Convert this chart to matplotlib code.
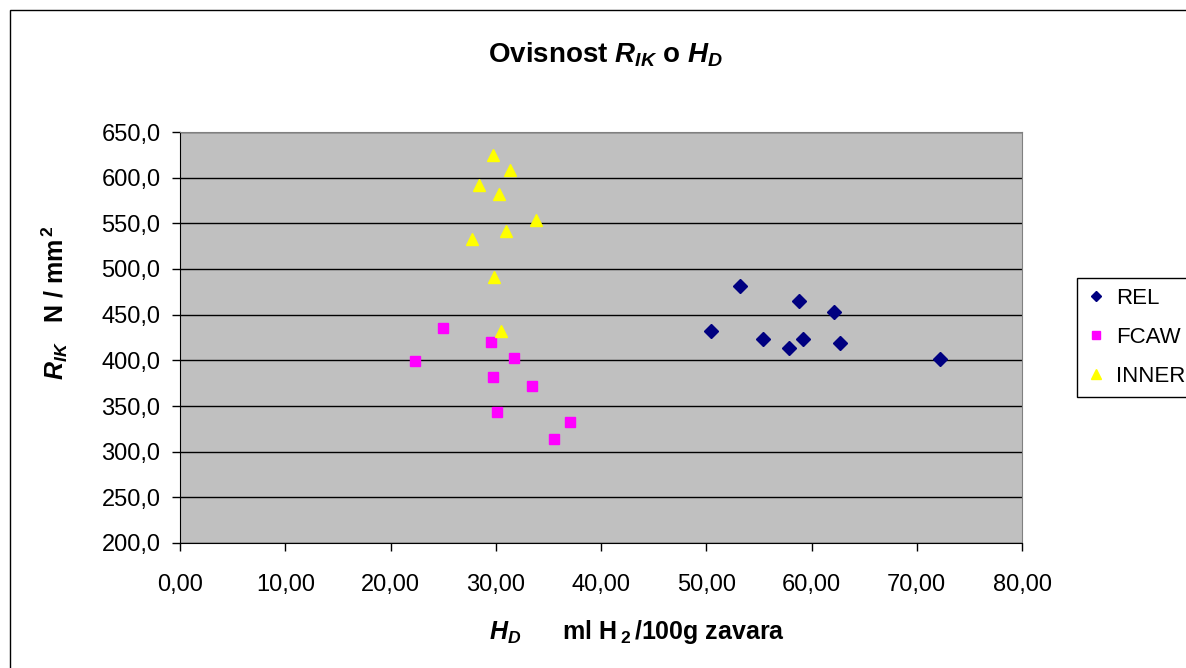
import numpy as np
import matplotlib
matplotlib.use("Agg")
import matplotlib.pyplot as plt
from matplotlib.ticker import FuncFormatter, MultipleLocator
from matplotlib.patches import Rectangle

plt.rcParams['font.family'] = ['Liberation Sans', 'DejaVu Sans']
plt.rcParams['mathtext.fontset'] = 'custom'
plt.rcParams['mathtext.rm'] = 'Liberation Sans'
plt.rcParams['mathtext.it'] = 'Liberation Sans:italic'
plt.rcParams['mathtext.bf'] = 'Liberation Sans:bold'
plt.rcParams['mathtext.bfit'] = 'Liberation Sans:italic:bold'

# REL
rel_x = [53.24, 58.84, 62.11, 50.42, 55.39, 57.86, 59.19, 62.67, 72.18]
rel_y = [481.7, 464.5, 453.2, 432.4, 422.9, 413.4, 422.9, 418.9, 401.7]
# FCAW
fcaw_x = [24.99, 29.58, 22.36, 31.73, 29.77, 33.41, 30.09, 37.02, 35.53]
fcaw_y = [435.4, 420.0, 399.2, 402.8, 382.0, 372.4, 343.9, 332.6, 313.7]
# INNER
inner_x = [29.71, 31.32, 28.38, 30.34, 33.79, 30.97, 27.71, 29.83, 30.50]
inner_y = [624.3, 608.9, 591.7, 582.2, 553.8, 542.0, 532.9, 490.9, 432.0]

W, H = 1186, 668
fig = plt.figure(figsize=(W / 100, H / 100), dpi=100)
fig.patch.set_facecolor('white')

# chart area border (only left/top visible in the crop)
fig.add_artist(Rectangle((10 / W, -0.05), 1.2, (H - 10) / H + 0.05,
                         transform=fig.transFigure, fill=False,
                         edgecolor='black', linewidth=1.0))

ax = fig.add_axes([180 / W, 1 - 543 / H, (1022 - 180) / W, (543 - 132) / H])
ax.set_facecolor('#C0C0C0')

ax.plot(rel_x, rel_y, linestyle='none', marker='D', markersize=7,
        color='#000080', label='REL', zorder=3)
ax.plot(fcaw_x, fcaw_y, linestyle='none', marker='s', markersize=6.5,
        color='#FF00FF', label='FCAW', zorder=3)
ax.plot(inner_x, inner_y, linestyle='none', marker='^', markersize=9,
        color='#FFFF00', label='INNER', zorder=3)

ax.set_xlim(0, 80)
ax.set_ylim(200, 650)
ax.xaxis.set_major_locator(MultipleLocator(10))
ax.yaxis.set_major_locator(MultipleLocator(50))
ax.xaxis.set_major_formatter(FuncFormatter(lambda v, p: f"{v:.2f}".replace('.', ',')))
ax.yaxis.set_major_formatter(FuncFormatter(lambda v, p: f"{v:.1f}".replace('.', ',')))
ax.yaxis.grid(True, color='black', linewidth=1.0)
ax.set_axisbelow(True)

for s in ['top', 'right']:
    ax.spines[s].set_color('#808080')
for s in ['left', 'bottom']:
    ax.spines[s].set_color('black')
ax.tick_params(axis='both', direction='out', length=6, width=1, labelsize=17)
ax.tick_params(axis='y', pad=8)
ax.tick_params(axis='x', pad=16)

fig.text(606 / W, 1 - 55 / H, r"Ovisnost $\mathbfit{R}_{\mathbfit{IK}}$ o $\mathbfit{H}_{\mathbfit{D}}$",
         ha='center', va='center', fontsize=20, fontweight='bold')
fig.text(637 / W, 1 - 632 / H,
         r"$\mathbfit{H}_{\mathbfit{D}}$      ml H$\,_{\mathbf{2}}\,$/100g zavara",
         ha='center', va='center', fontsize=18, fontweight='bold')
fig.text(55 / W, 1 - 303 / H, r"$\mathbfit{R}_{\mathbfit{IK}}$   N / mm$^{\,\mathbf{2}}$",
         ha='center', va='center', rotation=90, fontsize=18, fontweight='bold')

leg = ax.legend(loc='upper left', bbox_to_anchor=(1077 / W, 1 - 278 / H),
                bbox_transform=fig.transFigure, fontsize=16, frameon=True,
                fancybox=False, edgecolor='black', framealpha=1,
                handlelength=0.8, handletextpad=0.5, labelspacing=0.8,
                borderpad=0.45, borderaxespad=0)
leg.get_frame().set_linewidth(1.0)
for h, ms in zip(leg.legend_handles, [5.5, 6, 7.5]):
    h.set_markersize(ms)

fig.savefig('out.png', dpi=100)
